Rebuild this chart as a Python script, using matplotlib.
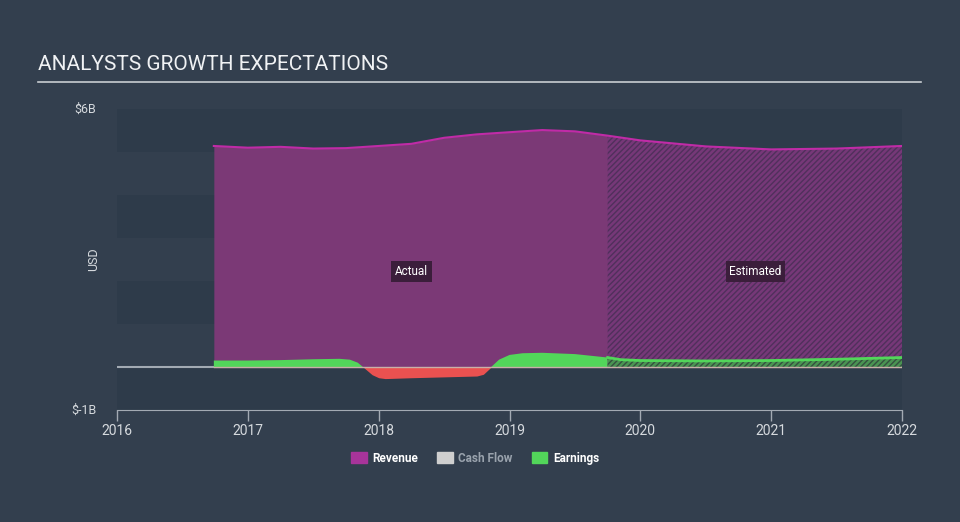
import numpy as np
import matplotlib
matplotlib.use("Agg")
import matplotlib.pyplot as plt
from matplotlib.patches import Patch

plt.rcParams['font.family'] = ['Roboto', 'DejaVu Sans']
plt.rcParams['hatch.linewidth'] = 1.0

# revenue, $B (actual then analyst estimate)
rev_years = [2016.74, 2017.0, 2017.25, 2017.5, 2017.75, 2018.0, 2018.25, 2018.5,
             2018.75, 2019.0, 2019.25, 2019.5, 2019.75]
rev_vals = [5.14, 5.10, 5.12, 5.08, 5.09, 5.14, 5.19, 5.33, 5.41, 5.46, 5.51, 5.48, 5.38]
rev_est_years = [2019.75, 2020.0, 2020.5, 2021.0, 2021.5, 2022.0]
rev_est_vals = [5.38, 5.27, 5.13, 5.06, 5.08, 5.14]

# earnings, $B
earn_years = [2016.74, 2017.0, 2017.25, 2017.5, 2017.7, 2017.78, 2017.84, 2017.88,
              2017.95, 2018.0, 2018.05, 2018.25, 2018.5, 2018.75, 2018.8, 2018.86,
              2018.92, 2019.0, 2019.1, 2019.25, 2019.5, 2019.75]
earn_vals = [0.15, 0.15, 0.16, 0.18, 0.19, 0.17, 0.10, 0.0, -0.18, -0.25, -0.27,
             -0.25, -0.23, -0.21, -0.17, 0.0, 0.17, 0.28, 0.32, 0.33, 0.30, 0.22]
earn_est_years = [2019.75, 2019.85, 2020.0, 2020.5, 2021.0, 2021.5, 2022.0]
earn_est_vals = [0.22, 0.17, 0.15, 0.14, 0.15, 0.18, 0.22]

y_ticks = [-1, 6]
y_tick_labels = ['$-1B', '$6B']
x_ticks = [2016, 2017, 2018, 2019, 2020, 2021, 2022]

BG = '#333f4e'
DARK = '#2e3b4a'
REV_LINE = '#c02ba7'
REV_FILL = '#7b3976'
GREEN = '#52d65a'
RED = '#ea5150'
TXT = '#d6dade'

fig = plt.figure(figsize=(9.6, 5.22), dpi=100, facecolor=BG)
ax = fig.add_axes([0.1219, 0.2146, 0.8177, 0.5766])
ax.set_facecolor(BG)

# alternating background bands, one per $1B
for lo in range(-1, 6):
    if lo % 2 == 1 or lo == -1:
        ax.axhspan(lo, lo + 1, color=DARK, lw=0, zorder=0)

ax.axhline(0, color='#a3aab3', lw=1.5, zorder=1)

# revenue
ax.fill_between(rev_years, 0, rev_vals, color=REV_FILL, lw=0, zorder=2)
ax.fill_between(rev_est_years, 0, rev_est_vals, facecolor='#763878',
                edgecolor='#50305c', hatch='//////', lw=0, zorder=2)
ax.plot(rev_years + rev_est_years, rev_vals + rev_est_vals, color=REV_LINE, lw=1.5, zorder=3)

# earnings
ey = np.array(earn_years)
ev = np.array(earn_vals)
ax.fill_between(ey, 0, ev, where=ev >= 0, interpolate=True, color=GREEN, lw=0, zorder=4)
ax.fill_between(ey, 0, ev, where=ev <= 0, interpolate=True, color=RED, lw=0, zorder=4)
ax.fill_between(earn_est_years, 0, earn_est_vals, facecolor='#4a9452',
                edgecolor='#35503f', hatch='//////', lw=0, zorder=4)
ax.plot(earn_est_years, earn_est_vals, color=GREEN, lw=2, zorder=5)
ax.axhline(0, xmin=(2016.74 - 2016) / 6, color='#c9b0a8', lw=1, zorder=5)

ax.text(2018.25, 2.22, 'Actual', color='white', fontsize=8.5, ha='center', va='center',
        zorder=6, bbox=dict(boxstyle='square,pad=0.3', fc='#3b1e3b', ec='none'))
ax.text(2020.88, 2.22, 'Estimated', color='white', fontsize=8.5, ha='center', va='center',
        zorder=6, bbox=dict(boxstyle='square,pad=0.3', fc='#3b1e3b', ec='none'))

ax.set_xlim(2016, 2022)
ax.set_ylim(-1, 6)
ax.set_xticks(x_ticks)
ax.set_xticklabels([str(t) for t in x_ticks])
ax.set_yticks(y_ticks)
ax.set_yticklabels(y_tick_labels)
ax.tick_params(axis='x', colors='#a3aab3', labelcolor=TXT, labelsize=10, length=8, width=1, pad=2)
ax.tick_params(axis='y', length=0, labelcolor=TXT, labelsize=9, pad=15)
for lbl in ax.get_yticklabels():
    lbl.set_va('center')
for s in ['top', 'right', 'left']:
    ax.spines[s].set_visible(False)
ax.spines['bottom'].set_color('#a3aab3')
ax.set_ylabel('USD', color=TXT, fontsize=9)
ax.yaxis.set_label_coords(-0.022, 0.5)

fig.text(0.04, 0.865, 'ANALYSTS GROWTH EXPECTATIONS', color='#f0f2f4', fontsize=15,
         ha='left', va='baseline')
fig.add_artist(plt.Line2D([0.04, 0.959], [0.843, 0.843], color='#c8cdd2', lw=1.2))

handles = [Patch(color='#a8349a'), Patch(color='#cfcfcf'), Patch(color=GREEN)]
leg = fig.legend(handles, ['Revenue', 'Cash Flow', 'Earnings'], loc='center',
                 bbox_to_anchor=(0.495, 0.122), ncol=3, frameon=False, fontsize=8.5,
                 handlelength=1.3, handleheight=1.1, columnspacing=1.6, handletextpad=0.5)
for t, c in zip(leg.get_texts(), ['white', '#9aa3ad', 'white']):
    t.set_color(c)
    t.set_fontweight('bold')

fig.savefig('out.png', dpi=100, facecolor=BG)
